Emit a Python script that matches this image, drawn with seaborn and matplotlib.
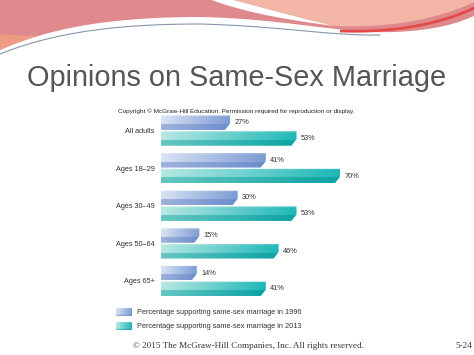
import numpy as np
import pandas as pd
import matplotlib
matplotlib.use("Agg")
import matplotlib.pyplot as plt
from matplotlib.patches import Polygon
import seaborn as sns

# Chart values
groups = ["All adults", "Ages 18\u201329", "Ages 30\u201349", "Ages 50\u201364", "Ages 65+"]
pct_1996 = [27, 41, 30, 15, 14]
pct_2013 = [53, 70, 53, 46, 41]
series_names = ["Percentage supporting same-sex marriage in 1996",
                "Percentage supporting same-sex marriage in 2013"]

title = "Opinions on Same-Sex Marriage"
credit = "Copyright \u00a9 McGraw-Hill Education. Permission required for reproduction or display."
footer = "\u00a9 2015 The McGraw-Hill Companies, Inc. All rights reserved."
slide_no = "5-24"

df = pd.DataFrame({
    "group": groups * 2,
    "pct": pct_1996 + pct_2013,
    "series": [series_names[0]] * len(groups) + [series_names[1]] * len(groups),
})

sns.set_style("white")
plt.rcParams["font.family"] = ["Liberation Sans", "DejaVu Sans"]

W, H = 474, 355
fig = plt.figure(figsize=(W / 100, H / 100), dpi=100)
fig.patch.set_facecolor("white")

# gradient colours (left, right, dark strip left, dark strip right)
grad = {
    series_names[0]: ((0.85, 0.89, 0.96), (0.49, 0.61, 0.83), (0.62, 0.70, 0.86), (0.42, 0.55, 0.80)),
    series_names[1]: ((0.72, 0.91, 0.89), (0.12, 0.72, 0.72), (0.40, 0.78, 0.76), (0.04, 0.64, 0.64)),
}


def bezier(p0, p1, p2, p3, n=60):
    t = np.linspace(0, 1, n)[:, None]
    p0, p1, p2, p3 = map(np.array, (p0, p1, p2, p3))
    return (1 - t) ** 3 * p0 + 3 * (1 - t) ** 2 * t * p1 + 3 * (1 - t) * t ** 2 * p2 + t ** 3 * p3


def gradient_img(cols_, rows=20, cols=120, split=0.6):
    c_left, c_right, d_left, d_right = cols_
    t = np.linspace(0, 1, cols)
    img = np.zeros((rows, cols, 3))
    cut = int(rows * split)
    for k in range(3):
        img[:cut, :, k] = c_left[k] + (c_right[k] - c_left[k]) * t
        img[cut:, :, k] = d_left[k] + (d_right[k] - d_left[k]) * t
    img[:2] = np.clip(img[:2] * 0.85 + 0.15, 0, 1)
    return img


# ---- slide background / header ----
bg = fig.add_axes([0, 0, 1, 1], zorder=-1)
bg.set_xlim(0, W)
bg.set_ylim(H, 0)
bg.axis("off")

bottom_curve = np.vstack([
    bezier((0, 50), (50, 28), (110, 17), (200, 17)),
    bezier((200, 17), (290, 19), (340, 34), (395, 32)),
    bezier((395, 32), (440, 30), (460, 22), (474, 16)),
])
pink = np.vstack([[[0, 0], [474, 0]], bottom_curve[::-1]])
bg.add_patch(Polygon(pink, closed=True, facecolor="#de8a8d", edgecolor="none"))
# slight orange glow at lower left
glow = np.vstack([[[0, 34]], bottom_curve[:16], [[28, 36]]])
bg.add_patch(Polygon(glow, closed=True, facecolor="#f4a57f", edgecolor="none", alpha=0.7))

# white swoosh and peach region
sw_left = bezier((212, 0), (240, 11), (285, 20), (335, 26))
sw_right = bezier((234, 0), (265, 8), (300, 18), (335, 26))
bg.add_patch(Polygon(np.vstack([sw_left, sw_right[::-1]]), closed=True,
                     facecolor="white", edgecolor="none"))
peach_edge = bezier((335, 26), (400, 29), (450, 14), (474, 2))
peach = np.vstack([[[234, 0], [474, 0]], peach_edge[::-1], sw_right[::-1]])
bg.add_patch(Polygon(peach, closed=True, facecolor="#f2b5a6", edgecolor="none"))
# red stripe near lower right edge
red = bezier((340, 31), (400, 33), (445, 22), (474, 8))
bg.plot(red[:, 0], red[:, 1], color="#e44a48", lw=2.0, solid_capstyle="butt")
# thin grey line beneath the wave
line = np.vstack([
    bezier((0, 54), (50, 34), (110, 24), (200, 24)),
    bezier((200, 24), (280, 26), (330, 36), (380, 35)),
])
bg.plot(line[:, 0], line[:, 1], color="#8896a8", lw=0.8)

fig.text(237 / W, 1 - 78 / H, title, ha="center", va="center",
         fontsize=20.8, color="#555555")
fig.text(236 / W, 1 - 111 / H, credit, ha="center", va="center",
         fontsize=4.6, color="#222222")
fig.text(248 / W, 1 - 346 / H, footer, ha="center", va="center",
         fontsize=6.6, color="#333333", family=["Liberation Serif"])
fig.text(464 / W, 1 - 346 / H, slide_no, ha="center", va="center",
         fontsize=6.6, color="#333333", family=["Liberation Serif"])

# ---- bar chart ----
ax = fig.add_axes([161 / W, 0.1555, 255.7 / W, 0.5296])
sns.barplot(data=df, y="group", x="pct", hue="series", orient="h",
            hue_order=series_names, order=groups, width=0.84, gap=0.08,
            legend=False, ax=ax)
ax.set_xlim(0, 100)
ax.set_ylim(4.5, -0.5)

slant = 2.0
for cont, name in zip(ax.containers, series_names):
    for bar in cont:
        x0, y0 = bar.get_x(), bar.get_y()
        w, h = bar.get_width(), bar.get_height()
        bar.set_visible(False)
        img = gradient_img(grad[name])
        im = ax.imshow(img, extent=(x0, x0 + w, y0 + h, y0), origin="upper",
                       aspect="auto", zorder=2, interpolation="bilinear")
        clip = Polygon([(x0, y0), (x0 + w, y0), (x0 + w, y0 + 0.55 * h),
                        (x0 + w - slant, y0 + h), (x0, y0 + h)],
                       closed=True, transform=ax.transData)
        im.set_clip_path(clip)

for cont, vals in zip(ax.containers, [pct_1996, pct_2013]):
    ax.bar_label(cont, labels=[f"{v}%" for v in vals], padding=3,
                 fontsize=5.3, color="#333333")

ax.set_xlim(0, 100)
ax.set_ylim(4.5, -0.5)
ax.set_xlabel("")
ax.set_ylabel("")
ax.set_xticks([])
ax.tick_params(axis="y", length=0, pad=4.5, labelsize=5.2, labelcolor="#333333")
for s in ax.spines.values():
    s.set_visible(False)
ax.patch.set_alpha(0)

# ---- legend with gradient swatches ----
for i, name in enumerate(series_names):
    yc = 312 + 14 * i
    img = gradient_img(grad[name], split=0.85)
    bg.imshow(img, extent=(116, 132, yc + 4, yc - 4), origin="upper",
              aspect="auto", zorder=2)
    bg.text(137, yc, name, ha="left", va="center", fontsize=5.3, color="#333333")
bg.set_xlim(0, W)
bg.set_ylim(H, 0)

fig.savefig("out.png", dpi=100)
